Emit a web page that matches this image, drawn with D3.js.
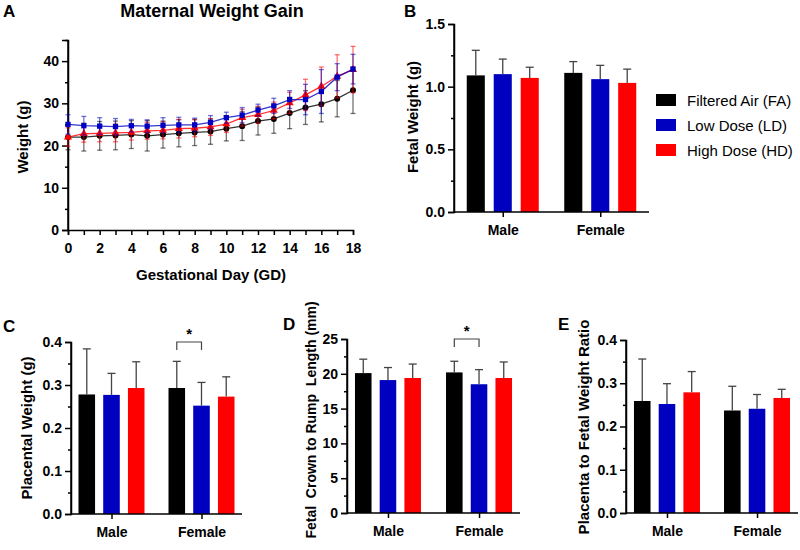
<!DOCTYPE html>
<html>
<head>
<meta charset="utf-8">
<script src="https://cdn.jsdelivr.net/npm/d3@7"></script>
<style>
  body { margin: 0; background: #fff; }
  svg { font-family: "Liberation Sans", Arial, sans-serif; }
  svg text { white-space: pre; }
  .tick text { font-weight: bold; }
  .axis path, .axis line { stroke: #000; stroke-width: 1.5; }
</style>
</head>
<body>
<svg id="fig" width="800" height="550"></svg>
<script>
(function() {

  // Group names and colours.
  var series = ["Filtered Air (FA)", "Low Dose (LD)", "High Dose (HD)"];
  var colours = ["#000000", "#0000c0", "#ff0000"];
  var sexes = ["Male", "Female"];

  // Panel A: gestational days and mean / SD per group.
  var days = [0, 1, 2, 3, 4, 5, 6, 7, 8, 9, 10, 11, 12, 13, 14, 15, 16, 17, 18];
  var faMean = [22.0, 22.0, 22.3, 22.4, 22.6, 22.3, 22.6, 22.9, 23.1, 23.3, 24.0, 24.6, 25.8, 26.3, 27.7, 29.0, 29.8, 31.1, 33.1];
  var faSd   = [3.0, 3.3, 3.4, 3.4, 3.3, 3.6, 3.2, 3.2, 3.1, 3.0, 2.9, 3.4, 3.3, 3.4, 3.7, 4.0, 4.2, 4.3, 5.5];
  var ldMean = [25.0, 24.7, 24.6, 24.5, 24.7, 24.6, 24.8, 24.9, 24.9, 25.5, 26.6, 27.2, 28.4, 29.4, 30.9, 30.9, 32.8, 36.2, 38.1];
  var ldSd   = [2.3, 2.2, 2.0, 1.9, 1.5, 1.5, 1.8, 1.8, 1.6, 1.6, 1.3, 1.8, 1.4, 1.8, 2.1, 3.6, 5.2, 3.2, 3.5];
  var hdMean = [22.0, 22.8, 22.9, 23.0, 23.1, 23.5, 23.6, 24.0, 24.1, 24.4, 25.1, 26.6, 27.3, 28.3, 30.1, 32.0, 34.0, 36.4, 38.0];
  var hdSd   = [2.2, 2.0, 2.0, 2.1, 1.8, 2.0, 2.0, 2.2, 2.0, 2.0, 2.0, 2.0, 2.0, 2.0, 2.5, 3.7, 4.6, 5.1, 5.5];

  // Panel B: fetal weight (g), [Male, Female] per group.
  var fetalMean = [[1.09, 1.11], [1.10, 1.06], [1.07, 1.03]];
  var fetalSd   = [[0.20, 0.09], [0.12, 0.11], [0.085, 0.11]];

  // Panel C: placental weight (g).
  var placMean = [[0.278, 0.293], [0.277, 0.252], [0.293, 0.273]];
  var placSd   = [[0.106, 0.062], [0.050, 0.054], [0.061, 0.046]];

  // Panel D: crown to rump length (mm).
  var crlMean = [[20.1, 20.2], [19.1, 18.5], [19.4, 19.4]];
  var crlSd   = [[2.0, 1.6], [1.8, 2.1], [2.0, 2.3]];

  // Panel E: placenta to fetal weight ratio.
  var ratioMean = [[0.259, 0.237], [0.252, 0.241], [0.279, 0.266]];
  var ratioSd   = [[0.097, 0.056], [0.047, 0.033], [0.048, 0.020]];

  var svg = d3.select("#fig");

  function letter(txt, x, y) {
    svg.append("text").attr("x", x).attr("y", y)
      .attr("font-size", 17).attr("font-weight", "bold").text(txt);
  }

  function yLabel(txt, x, y, size) {
    svg.append("text")
      .attr("transform", "translate(" + x + "," + y + ") rotate(-90)")
      .attr("text-anchor", "middle")
      .attr("font-size", size || 15).attr("font-weight", "bold")
      .text(txt);
  }

  // Y axis with major + minor ticks.
  function yAxis(y, x, major, minor, fmt) {
    var g = svg.append("g").attr("class", "axis")
      .attr("transform", "translate(" + x + ",0)");
    g.call(d3.axisLeft(y).tickValues(minor).tickSize(3).tickFormat(""));
    g.select(".domain").remove();
    var m = svg.append("g").attr("class", "axis")
      .attr("transform", "translate(" + x + ",0)")
      .call(d3.axisLeft(y).tickValues(major).tickSizeOuter(0).tickSize(6).tickFormat(fmt));
    m.selectAll(".tick text").attr("font-size", 14).attr("fill", "#000");
  }

  // ---------- Panel A ----------
  letter("A", 3, 17);
  svg.append("text").attr("x", 212).attr("y", 17).attr("text-anchor", "middle")
    .attr("font-size", 18).attr("font-weight", "bold").text("Maternal Weight Gain");

  var xA = d3.scaleLinear().domain([0, 18]).range([68, 353]);
  var yA = d3.scaleLinear().domain([0, 45]).range([230, 40]);

  yAxis(yA, 68, [0, 10, 20, 30, 40], [5, 15, 25, 35, 45], d3.format("d"));
  svg.append("line").attr("x1", 68).attr("x2", 68).attr("y1", yA(0)).attr("y2", yA(45))
    .attr("stroke", "#000").attr("stroke-width", 1.5);

  var xg = svg.append("g").attr("class", "axis")
    .attr("transform", "translate(0," + yA(0) + ")")
    .call(d3.axisBottom(xA).tickValues(days).tickSizeOuter(0).tickSize(5)
      .tickFormat(function(d) { return d % 2 === 0 ? d : ""; }));
  xg.selectAll(".tick text").attr("font-size", 14).attr("fill", "#000").attr("dy", "1.05em");

  svg.append("text").attr("x", 211).attr("y", 280).attr("text-anchor", "middle")
    .attr("font-size", 15).attr("font-weight", "bold").text("Gestational Day (GD)");
  yLabel("Weight (g)", 28, 137);

  var lineSets = [
    { mean: faMean, sd: faSd, c: colours[0], shape: d3.symbolCircle },
    { mean: hdMean, sd: hdSd, c: colours[2], shape: d3.symbolTriangle },
    { mean: ldMean, sd: ldSd, c: colours[1], shape: d3.symbolSquare }
  ];
  var line = d3.line().x(function(d) { return xA(d.day); }).y(function(d) { return yA(d.v); });

  lineSets.forEach(function(s) {
    var pts = days.map(function(d, i) { return { day: d, v: s.mean[i], e: s.sd[i] }; });
    var g = svg.append("g");
    // error bars
    var eb = g.selectAll(".eb").data(pts).enter().append("g")
      .attr("stroke", s.c).attr("stroke-opacity", 0.55).attr("stroke-width", 1.3);
    eb.append("line")
      .attr("x1", function(d) { return xA(d.day); }).attr("x2", function(d) { return xA(d.day); })
      .attr("y1", function(d) { return yA(d.v - d.e); }).attr("y2", function(d) { return yA(d.v + d.e); });
    [-1, 1].forEach(function(k) {
      eb.append("line")
        .attr("x1", function(d) { return xA(d.day) - 2.5; }).attr("x2", function(d) { return xA(d.day) + 2.5; })
        .attr("y1", function(d) { return yA(d.v + k * d.e); }).attr("y2", function(d) { return yA(d.v + k * d.e); });
    });
    g.append("path").datum(pts).attr("d", line)
      .attr("fill", "none").attr("stroke", s.c).attr("stroke-width", 1.3).attr("stroke-opacity", 0.8);
    g.selectAll(".pt").data(pts).enter().append("path")
      .attr("transform", function(d) { return "translate(" + xA(d.day) + "," + yA(d.v) + ")"; })
      .attr("d", d3.symbol().type(s.shape).size(28))
      .attr("fill", s.c);
  });

  // ---------- Bar panels ----------
  function barPanel(o) {
    var y = d3.scaleLinear().domain([0, o.max]).range([o.y0, o.y1]);
    var x = d3.scalePoint().domain(sexes).range([o.x0, o.x1]).padding(o.pad);
    var sub = d3.scaleBand().domain(series).range([-o.half, o.half]).paddingInner(0.33);

    var rows = [];
    series.forEach(function(s, i) {
      sexes.forEach(function(sx, j) {
        rows.push({ s: s, sex: sx, v: o.mean[i][j], e: o.sd[i][j], c: colours[i] });
      });
    });

    var g = svg.append("g");
    g.selectAll("rect").data(rows).enter().append("rect")
      .attr("x", function(d) { return x(d.sex) + sub(d.s); })
      .attr("width", sub.bandwidth())
      .attr("y", function(d) { return y(d.v); })
      .attr("height", function(d) { return y(0) - y(d.v); })
      .attr("fill", function(d) { return d.c; });

    var bw = sub.bandwidth();
    var eb = g.selectAll(".eb").data(rows).enter().append("g")
      .attr("stroke", "#444").attr("stroke-width", 1.3);
    eb.append("line")
      .attr("x1", function(d) { return x(d.sex) + sub(d.s) + bw / 2; })
      .attr("x2", function(d) { return x(d.sex) + sub(d.s) + bw / 2; })
      .attr("y1", function(d) { return y(d.v); })
      .attr("y2", function(d) { return y(d.v + d.e); });
    eb.append("line")
      .attr("x1", function(d) { return x(d.sex) + sub(d.s) + bw / 2 - 4; })
      .attr("x2", function(d) { return x(d.sex) + sub(d.s) + bw / 2 + 4; })
      .attr("y1", function(d) { return y(d.v + d.e); })
      .attr("y2", function(d) { return y(d.v + d.e); });

    yAxis(y, o.x0, o.major, o.minor, o.fmt);
    svg.append("line").attr("x1", o.x0).attr("x2", o.x0).attr("y1", y(0)).attr("y2", y(o.max))
      .attr("stroke", "#000").attr("stroke-width", 1.5);

    var xa = svg.append("g").attr("class", "axis")
      .attr("transform", "translate(0," + y(0) + ")")
      .call(d3.axisBottom(x).tickSizeOuter(0).tickSize(5));
    xa.select(".domain").attr("d", "M" + o.x0 + ",0H" + o.x1);
    xa.selectAll(".tick text").attr("font-size", 14).attr("fill", "#000").attr("dy", "1.1em");

    if (o.sig) {
      var a = x("Female") + sub(series[0]) + bw / 2;
      var b = x("Female") + sub(series[1]) + bw / 2;
      var top = y(o.sig);
      svg.append("path")
        .attr("d", "M" + a + "," + (top + 8) + "V" + top + "H" + b + "V" + (top + 8))
        .attr("fill", "none").attr("stroke", "#444").attr("stroke-width", 1.2);
      svg.append("text").attr("x", (a + b) / 2).attr("y", top - 3)
        .attr("text-anchor", "middle").attr("font-size", 15).attr("font-weight", "bold").text("*");
    }
  }

  // B
  letter("B", 404, 17);
  barPanel({ mean: fetalMean, sd: fetalSd, max: 1.5, y0: 212, y1: 24, x0: 454, x1: 649, pad: 0.5, half: 36,
    major: [0, 0.5, 1.0, 1.5], minor: [0.25, 0.75, 1.25], fmt: d3.format(".1f") });
  yLabel("Fetal Weight (g)", 418, 117);

  // legend
  var leg = svg.append("g").attr("transform", "translate(656,94)");
  var li = leg.selectAll("g").data(series).enter().append("g")
    .attr("transform", function(d, i) { return "translate(0," + i * 25 + ")"; });
  li.append("rect").attr("width", 20).attr("height", 12)
    .attr("fill", function(d, i) { return colours[i]; });
  li.append("text").attr("x", 31).attr("y", 11.5).attr("font-size", 15).text(function(d) { return d; });

  // C
  letter("C", 3, 332);
  barPanel({ mean: placMean, sd: placSd, max: 0.4, y0: 514, y1: 342, x0: 71, x1: 242, pad: 0.45, half: 33,
    major: [0, 0.1, 0.2, 0.3, 0.4], minor: [0.05, 0.15, 0.25, 0.35], fmt: d3.format(".1f"), sig: 0.4 });
  yLabel("Placental Weight (g)", 32, 428);

  // D
  letter("D", 283, 330);
  barPanel({ mean: crlMean, sd: crlSd, max: 25, y0: 513, y1: 339, x0: 347, x1: 520, pad: 0.45, half: 33,
    major: [0, 5, 10, 15, 20, 25], minor: [2.5, 7.5, 12.5, 17.5, 22.5], fmt: d3.format("d"), sig: 25 });
  yLabel("Fetal  Crown to Rump  Length (mm)", 316, 420, 14);

  // E
  letter("E", 558, 330);
  barPanel({ mean: ratioMean, sd: ratioSd, max: 0.4, y0: 513, y1: 340, x0: 626, x1: 798, pad: 0.455, half: 33,
    major: [0, 0.1, 0.2, 0.3, 0.4], minor: [0.05, 0.15, 0.25, 0.35], fmt: d3.format(".1f") });
  yLabel("Placenta to Fetal Weight Ratio", 589, 427);

})();
</script>
</body>
</html>
